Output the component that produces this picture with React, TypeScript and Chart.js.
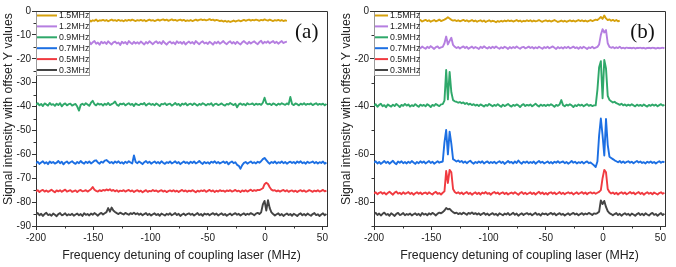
import React, { useEffect, useRef } from 'react';
import { Chart, registerables } from 'chart.js';
Chart.register(...registerables);

// ---------- axes ----------
const X_MIN = -200;
const X_MAX = 54;
const Y_MIN = -90;
const Y_MAX = 0;
const X0 = -200;      // frequency of the first sample (MHz)
const STEP = 1.5;     // sample spacing (MHz)
const xTicks = [-200, -150, -100, -50, 0, 50];
const xMinorTicks = [-175, -125, -75, -25, 25];
const yTicksA = [-90, -80, -70, -60, -50, -40, -30, -20, -10, 0];
const yMinorA = [-85, -75, -65, -55, -45, -35, -25, -15, -5];
const yTicksB = [-80, -60, -40, -20, 0];
const yMinorB = [-90, -70, -50, -30, -10];
const xTitle = 'Frequency detuning of coupling laser (MHz)';
const yTitle = 'Signal intensity with offset Y values';

// ---------- series ----------
const seriesLabels = ['1.5MHz', '1.2MHz', '0.9MHz', '0.7MHz', '0.5MHz', '0.3MHz'];
const seriesColors = ['#d6a10c', '#b57ee0', '#2fa86a', '#1c6fe3', '#f03a40', '#444444'];

// panel (a)
const a15Start = 30;
const a15 = [
  -4.2,-3.8,-4.4,-3.9,-4.1,-3.6,-4.3,-3.9,-4.0,-3.7,
  -4.1,-3.8,-4.3,-3.9,-3.6,-4.0,-3.8,-4.2,-3.7,-4.1,
  -3.9,-4.3,-3.8,-4.1,-3.7,-4.0,-3.6,-3.9,-4.2,-3.8,
  -4.0,-3.7,-4.1,-3.8,-4.3,-3.9,-3.6,-4.0,-3.8,-4.2,
  -3.9,-3.6,-4.0,-3.7,-3.5,-3.9,-3.6,-4.1,-3.8,-3.5,
  -3.9,-3.7,-4.1,-3.8,-3.6,-4.0,-3.7,-4.2,-3.9,-4.1,
  -3.8,-4.2,-3.9,-3.6,-4.0,-3.7,-3.5,-3.8,-3.6,-3.9,
  -3.7,-3.4,-3.8,-3.6,-4.0,-3.7,-3.9,-4.2,-4.0,-4.4,
  -4.1,-4.5,-4.2,-4.6,-4.3,-4.0,-4.4,-4.1,-3.9,-4.3,
  -4.0,-3.7,-4.1,-3.8,-3.6,-4.0,-3.7,-3.9,-3.6,-3.8,
  -4.1,-3.7,-3.9,-3.5,-3.8,-4.0,-3.6,-3.9,-4.2,-3.8,
  -4.0,-3.7,-4.1,-3.8,-4.2,-3.9,-4.1,
];
const a12Start = 30;
const a12 = [
  -13.6,-12.8,-13.9,-13.1,-12.6,-13.7,-13.2,-14.1,-12.9,-13.5,
  -13.0,-13.8,-12.7,-13.4,-14.0,-13.1,-12.8,-13.6,-13.2,-14.2,
  -12.9,-13.5,-13.0,-13.9,-12.6,-13.3,-13.8,-12.9,-13.6,-13.1,
  -13.7,-12.8,-13.4,-14.0,-13.0,-13.6,-12.7,-13.3,-13.9,-13.1,
  -12.7,-13.5,-13.0,-13.8,-12.6,-13.4,-14.1,-13.2,-12.8,-13.6,
  -13.1,-13.9,-12.7,-13.4,-13.0,-13.7,-12.9,-14.0,-13.3,-12.8,
  -13.5,-13.0,-13.8,-12.6,-13.3,-13.9,-13.1,-12.7,-13.6,-13.2,
  -13.8,-12.9,-13.4,-14.1,-13.0,-13.5,-12.8,-13.7,-13.2,-12.6,
  -13.4,-13.9,-13.1,-12.7,-13.6,-13.0,-13.8,-12.9,-13.5,-14.0,
  -13.1,-12.6,-13.3,-13.8,-12.9,-13.6,-13.1,-12.7,-13.4,-13.9,
  -13.0,-12.5,-13.6,-12.9,-13.3,-12.7,-13.5,-13.0,-12.6,-13.4,
  -12.9,-13.7,-13.1,-12.6,-13.4,-13.0,-12.8,
];
const a09Start = 0;
const a09 = [
  -39.2,-38.6,-39.5,-38.9,-39.8,-38.7,-39.1,-39.6,-38.5,-39.3,
  -39.0,-39.7,-38.8,-39.4,-38.6,-39.9,-39.1,-38.7,-39.5,-39.0,
  -38.8,-39.6,-39.2,-38.9,-40.0,-41.7,-39.3,-38.8,-39.4,-38.6,
  -39.1,-39.7,-38.4,-37.6,-39.0,-39.5,-38.7,-39.2,-38.9,-39.6,
  -38.8,-39.3,-38.5,-39.4,-39.0,-38.6,-37.9,-39.2,-39.7,-38.8,
  -39.1,-38.7,-39.5,-39.0,-38.6,-39.3,-38.9,-39.8,-38.7,-39.2,
  -39.4,-38.8,-39.1,-38.5,-39.6,-39.0,-38.7,-39.3,-38.9,-39.5,
  -38.7,-39.2,-39.8,-38.9,-39.1,-38.6,-39.4,-39.0,-38.8,-39.6,
  -39.1,-38.5,-39.3,-38.9,-39.7,-38.8,-39.2,-38.6,-39.5,-39.0,
  -38.8,-39.4,-38.7,-39.1,-39.6,-38.9,-39.3,-38.6,-39.0,-39.5,
  -38.9,-39.2,-38.6,-39.7,-39.0,-38.8,-39.4,-39.1,-38.7,-39.3,
  -39.6,-38.9,-39.2,-38.5,-39.0,-39.4,-38.8,-40.3,-39.1,-38.7,
  -39.3,-38.9,-39.5,-38.6,-39.1,-39.0,-38.7,-39.4,-38.8,-39.2,
  -38.9,-39.3,-38.4,-36.3,-38.6,-39.1,-38.8,-39.4,-38.7,-39.0,
  -39.5,-38.8,-39.2,-38.6,-39.0,-39.3,-38.7,-39.1,-36.0,-38.9,
  -39.4,-38.7,-39.0,-39.5,-38.8,-39.2,-38.6,-39.3,-38.9,-39.1,
  -38.7,-39.4,-39.0,-38.6,-39.3,-38.9,-39.2,-38.8,-39.5,-38.9,
];
const a07Start = 0;
const a07 = [
  -63.7,-63.1,-64.0,-63.4,-62.9,-63.8,-63.3,-64.1,-63.0,-63.6,
  -63.2,-63.9,-63.5,-62.8,-63.7,-63.1,-64.2,-63.4,-63.0,-63.8,
  -63.3,-62.9,-63.6,-64.0,-63.2,-63.7,-62.8,-63.5,-63.9,-63.1,
  -63.6,-63.0,-63.8,-63.3,-62.7,-62.5,-63.4,-63.9,-63.1,-63.5,
  -62.6,-62.4,-63.0,-63.6,-63.2,-63.8,-63.0,-63.5,-62.9,-63.7,
  -63.3,-63.9,-63.1,-63.6,-62.9,-63.4,-63.8,-60.5,-63.2,-63.7,
  -63.0,-63.5,-64.1,-63.3,-62.8,-63.6,-63.1,-63.9,-63.4,-63.0,
  -63.7,-63.2,-63.8,-62.9,-63.5,-64.0,-63.3,-63.6,-63.0,-63.8,
  -63.4,-62.9,-63.7,-63.2,-64.1,-63.5,-63.0,-63.6,-63.3,-63.9,
  -63.1,-63.6,-63.0,-63.8,-63.4,-62.8,-63.5,-64.0,-63.2,-63.7,
  -63.3,-63.9,-63.1,-63.5,-62.9,-63.7,-63.2,-63.8,-63.4,-63.0,
  -63.6,-63.1,-64.2,-63.4,-63.0,-63.7,-63.3,-64.4,-64.8,-66.0,
  -64.5,-63.6,-63.2,-63.9,-63.4,-63.0,-63.7,-63.3,-63.8,-63.1,
  -63.5,-62.9,-62.0,-61.5,-62.4,-63.3,-63.9,-63.2,-63.6,-63.0,
  -63.8,-63.3,-63.6,-63.0,-63.7,-63.2,-63.9,-63.4,-63.1,-63.6,
  -63.2,-63.8,-63.0,-63.5,-62.9,-63.7,-63.3,-63.9,-63.1,-63.6,
  -63.4,-63.0,-63.7,-63.2,-63.8,-63.3,-63.6,-63.0,-63.9,-63.4,
];
const a05Start = 0;
const a05 = [
  -75.5,-75.0,-75.8,-75.2,-74.9,-75.6,-75.1,-75.7,-75.3,-74.8,
  -75.4,-75.9,-75.1,-75.5,-75.0,-75.7,-75.2,-74.8,-75.6,-75.3,
  -75.0,-75.7,-75.4,-75.1,-75.8,-75.2,-74.9,-75.5,-75.3,-75.0,
  -75.6,-75.1,-74.6,-73.7,-74.8,-75.3,-75.6,-75.0,-75.4,-74.9,
  -75.2,-74.7,-75.1,-74.6,-75.3,-74.9,-75.5,-75.0,-75.7,-75.2,
  -75.4,-75.0,-75.6,-75.2,-74.9,-75.5,-75.1,-75.8,-75.3,-75.0,
  -75.6,-75.2,-75.9,-75.4,-75.0,-75.7,-75.3,-75.5,-74.9,-75.4,
  -75.1,-75.7,-75.3,-75.0,-75.6,-75.2,-75.8,-75.4,-75.1,-75.5,
  -75.0,-75.6,-75.2,-75.8,-75.3,-74.9,-75.5,-75.1,-75.7,-75.2,
  -75.5,-75.0,-75.4,-75.9,-75.2,-75.6,-75.1,-75.4,-75.0,-75.7,
  -75.3,-74.9,-75.5,-75.1,-75.8,-75.2,-75.6,-75.0,-75.4,-75.2,
  -75.7,-75.1,-75.4,-75.0,-75.6,-75.3,-74.9,-75.5,-75.2,-75.8,
  -75.1,-75.5,-75.0,-75.6,-75.2,-74.8,-75.4,-75.0,-75.3,-74.9,
  -75.0,-74.6,-74.2,-72.5,-71.9,-72.4,-73.8,-74.8,-75.2,-75.0,
  -75.5,-75.1,-75.6,-75.2,-74.9,-75.5,-75.0,-75.7,-75.3,-75.1,
  -75.6,-75.2,-75.8,-75.3,-75.0,-75.5,-75.1,-75.7,-75.4,-75.0,
  -75.3,-75.7,-75.2,-75.5,-75.0,-75.6,-75.3,-74.9,-75.5,-75.2,
];
const a03Start = 0;
const a03 = [
  -85.2,-84.6,-85.5,-84.9,-85.8,-85.0,-84.5,-85.4,-85.1,-85.7,
  -84.8,-85.3,-85.9,-85.0,-84.6,-85.5,-85.2,-84.7,-85.6,-85.1,
  -85.4,-84.9,-85.7,-85.2,-84.8,-85.5,-85.0,-85.8,-84.7,-85.3,
  -85.0,-85.6,-84.8,-85.3,-84.6,-85.1,-85.7,-84.9,-84.5,-85.2,
  -84.7,-84.2,-82.5,-84.0,-82.3,-83.5,-84.1,-84.6,-85.0,-84.4,
  -84.8,-85.2,-84.5,-84.9,-85.3,-84.6,-85.0,-84.4,-85.1,-84.7,
  -85.3,-84.8,-85.5,-85.0,-84.6,-85.4,-84.9,-85.6,-85.1,-84.7,
  -85.4,-85.0,-85.7,-84.8,-85.2,-85.6,-84.9,-85.3,-84.7,-85.5,
  -85.1,-84.6,-85.4,-84.9,-85.8,-85.2,-84.8,-85.5,-85.0,-84.7,
  -85.3,-84.9,-85.6,-85.1,-84.6,-85.4,-85.0,-85.7,-84.8,-85.2,
  -84.9,-85.5,-85.0,-84.6,-85.3,-84.8,-85.6,-85.1,-84.7,-85.4,
  -85.0,-85.7,-85.2,-84.8,-85.5,-85.0,-84.6,-85.3,-84.9,-85.6,
  -85.1,-84.7,-85.4,-84.9,-85.2,-84.6,-85.0,-85.5,-84.8,-84.5,
  -85.0,-84.3,-81.0,-79.5,-83.5,-79.2,-82.5,-84.3,-85.0,-85.6,
  -85.1,-84.7,-85.5,-85.0,-85.8,-85.2,-84.8,-85.4,-85.0,-85.7,
  -84.9,-85.3,-85.8,-85.1,-84.7,-85.5,-85.0,-85.6,-84.8,-85.3,
  -85.7,-85.0,-84.6,-85.4,-85.1,-85.8,-85.2,-84.7,-85.5,-85.0,
];

// panel (b)
const b15Start = 26;
const b15 = [
  -4.2,-3.8,-4.4,-4.0,
  -3.7,-4.2,-3.9,-4.5,-4.1,-3.8,-4.3,-4.0,-3.6,-4.2,
  -3.9,-3.6,-3.2,-2.6,-3.1,-3.7,-4.0,-3.8,-4.2,-3.9,
  -4.3,-4.0,-3.7,-4.2,-3.9,-4.4,-4.1,-3.8,-4.3,-4.0,
  -4.5,-4.1,-3.9,-4.4,-4.0,-4.6,-4.2,-3.9,-4.4,-4.1,
  -4.3,-4.7,-4.2,-4.5,-4.1,-4.4,-4.0,-4.3,-3.9,-4.2,
  -4.0,-4.4,-4.1,-3.8,-4.3,-4.0,-4.5,-4.1,-4.3,-3.9,
  -4.2,-3.9,-4.4,-4.0,-4.3,-4.1,-3.8,-4.2,-4.5,-4.1,
  -3.9,-4.3,-4.0,-4.4,-4.1,-3.8,-4.2,-4.6,-4.3,-4.0,
  -4.4,-4.1,-4.5,-4.2,-3.9,-4.3,-4.0,-4.4,-4.1,-3.8,
  -4.2,-3.9,-4.3,-4.0,-4.4,-4.1,-3.8,-4.2,-3.9,-3.6,
  -3.8,-3.2,-2.5,-3.3,-1.9,-3.1,-3.8,-3.5,-4.1,-3.7,
  -4.2,-3.8,-4.3,-4.0,
];
const b12Start = 26;
const b12 = [
  -15.1,-15.6,-14.9,-15.4,
  -15.8,-15.0,-15.5,-14.7,-15.3,-15.9,-15.1,-14.8,-15.6,-15.2,
  -15.0,-13.5,-10.7,-14.0,-12.5,-11.2,-14.2,-15.0,-15.5,-15.1,
  -15.7,-15.2,-14.8,-15.5,-15.0,-15.8,-15.3,-14.9,-15.6,-15.1,
  -15.4,-15.9,-15.0,-15.5,-14.8,-15.3,-15.7,-15.1,-15.6,-15.0,
  -15.5,-14.9,-15.4,-15.8,-15.2,-15.6,-15.0,-15.3,-15.9,-15.1,
  -15.6,-15.1,-15.5,-14.9,-15.4,-15.8,-15.2,-15.0,-15.6,-15.3,
  -14.9,-15.5,-15.1,-15.7,-15.2,-15.6,-15.0,-15.4,-15.8,-15.1,
  -15.5,-15.0,-15.6,-15.2,-14.8,-15.4,-15.9,-15.1,-15.6,-15.2,
  -15.7,-15.1,-15.5,-15.0,-15.6,-15.3,-14.9,-15.5,-15.2,-15.8,
  -15.1,-15.6,-15.0,-15.4,-15.9,-15.2,-15.5,-15.0,-15.6,-15.3,
  -15.0,-14.0,-10.0,-7.6,-9.0,-8.0,-13.5,-15.0,-15.4,-15.1,
  -15.6,-15.2,-15.5,-15.0,-15.6,-15.3,-15.7,-15.2,-15.5,-15.4,
  -15.6,-15.3,-15.7,-15.4,-15.5,-15.3,-15.6,-15.4,-15.7,-15.5,
  -15.4,-15.6,-15.3,-15.5,-15.7,-15.4,-15.6,-15.5,-15.3,-15.6,
];
const b09Start = 0;
const b09 = [
  -39.7,-39.0,-40.1,-39.3,-38.8,-39.9,-39.4,-40.3,-39.1,-39.6,
  -40.0,-39.2,-39.8,-38.9,-39.5,-40.2,-39.3,-39.7,-38.9,-39.6,
  -39.1,-40.0,-39.4,-39.8,-39.0,-39.6,-40.1,-39.2,-39.7,-39.3,
  -39.9,-39.0,-39.5,-40.2,-39.3,-39.7,-38.9,-39.4,-39.8,-39.1,
  -39.0,-37.5,-24.7,-37.0,-25.5,-34.0,-37.3,-37.8,-38.0,-38.4,
  -38.1,-38.6,-38.3,-38.9,-38.5,-39.2,-38.8,-39.4,-39.0,-39.6,
  -39.2,-39.8,-39.1,-39.5,-40.0,-39.3,-39.7,-38.9,-39.4,-39.9,
  -39.3,-39.7,-39.0,-39.6,-40.1,-39.2,-39.8,-39.4,-38.9,-39.6,
  -40.0,-39.3,-39.7,-39.1,-39.5,-40.2,-39.4,-39.0,-39.8,-39.3,
  -39.6,-39.1,-39.9,-39.4,-38.8,-39.5,-40.0,-39.2,-39.7,-39.3,
  -39.8,-39.2,-39.6,-39.0,-39.5,-40.1,-39.3,-39.7,-39.1,-37.3,
  -39.4,-39.9,-39.2,-39.6,-39.0,-39.5,-40.2,-39.4,-39.8,-39.1,
  -39.6,-39.2,-39.9,-39.4,-39.0,-39.7,-39.3,-39.8,-39.5,-39.5,
  -33.0,-23.5,-21.0,-36.5,-20.5,-24.0,-35.5,-37.2,-37.8,-38.3,
  -38.0,-38.6,-38.9,-39.3,-38.8,-39.5,-39.1,-39.7,-39.2,-39.6,
  -39.0,-39.5,-39.9,-39.2,-39.7,-39.3,-39.8,-39.1,-39.6,-40.0,
  -39.3,-39.7,-39.1,-39.6,-39.2,-39.9,-39.4,-39.0,-39.6,-39.3,
];
const b07Start = 0;
const b07 = [
  -63.5,-62.9,-63.8,-63.2,-64.0,-63.4,-62.8,-63.6,-63.1,-63.9,
  -63.3,-62.7,-63.6,-64.1,-63.0,-63.5,-62.9,-63.7,-63.2,-63.8,
  -63.1,-63.6,-62.8,-63.4,-64.0,-63.2,-63.7,-62.9,-63.5,-63.0,
  -63.8,-63.3,-62.8,-63.6,-63.1,-63.9,-63.4,-62.9,-63.5,-63.2,
  -63.0,-55.0,-49.8,-60.0,-50.5,-55.5,-62.0,-62.5,-63.0,-62.6,
  -63.2,-62.8,-63.5,-63.0,-63.7,-63.1,-62.7,-63.4,-63.9,-63.2,
  -63.6,-63.0,-63.5,-62.9,-63.8,-63.3,-63.0,-63.7,-63.2,-63.6,
  -63.1,-63.8,-63.3,-62.9,-63.6,-63.1,-64.0,-63.4,-62.8,-63.5,
  -63.2,-63.8,-63.0,-63.6,-62.6,-63.4,-63.9,-63.1,-63.5,-63.0,
  -63.7,-63.2,-63.6,-63.0,-63.9,-63.3,-62.8,-63.5,-63.1,-63.8,
  -63.4,-63.0,-63.7,-63.2,-63.8,-63.1,-63.5,-62.9,-63.6,-63.3,
  -63.0,-63.7,-63.2,-63.9,-63.4,-62.8,-63.5,-63.1,-63.8,-63.3,
  -63.6,-63.1,-63.8,-63.3,-63.0,-63.7,-63.4,-64.0,-64.6,-65.3,
  -63.0,-52.0,-45.0,-52.0,-60.5,-45.2,-56.0,-61.0,-61.5,-62.0,
  -62.5,-62.9,-63.3,-62.8,-63.5,-63.0,-63.6,-63.2,-62.9,-63.5,
  -63.1,-63.7,-63.2,-62.8,-63.4,-63.0,-63.6,-63.3,-63.8,-63.1,
  -63.5,-63.0,-63.6,-63.2,-63.8,-63.3,-62.9,-63.5,-63.1,-63.4,
];
const b05Start = 0;
const b05 = [
  -76.4,-75.9,-76.7,-76.1,-75.8,-76.5,-76.0,-76.8,-76.2,-75.7,
  -76.3,-76.9,-76.0,-75.6,-76.4,-76.1,-76.7,-75.9,-76.5,-76.2,
  -75.8,-76.6,-76.1,-76.9,-76.3,-75.9,-76.5,-76.0,-76.7,-76.2,
  -76.0,-76.6,-75.9,-76.4,-76.8,-76.1,-75.7,-76.5,-76.2,-76.8,
  -76.1,-75.5,-67.0,-72.0,-66.5,-67.5,-74.5,-75.8,-76.3,-75.9,
  -76.5,-76.0,-76.7,-76.2,-75.8,-76.6,-76.1,-76.9,-76.3,-75.9,
  -76.6,-76.1,-76.8,-76.0,-76.4,-75.8,-76.5,-76.2,-76.9,-76.1,
  -75.8,-76.4,-76.0,-76.7,-76.2,-75.9,-76.6,-76.1,-76.8,-76.3,
  -76.0,-76.5,-75.9,-76.4,-76.9,-76.2,-75.8,-76.6,-76.1,-76.7,
  -76.3,-75.9,-76.6,-76.1,-76.8,-76.2,-75.7,-76.5,-76.0,-76.7,
  -76.2,-76.8,-76.1,-75.9,-76.5,-76.0,-76.7,-76.3,-75.8,-76.6,
  -76.1,-76.7,-76.2,-75.9,-76.4,-76.0,-76.8,-76.3,-75.9,-76.6,
  -76.2,-75.8,-76.5,-76.0,-76.7,-76.1,-75.9,-76.4,-76.0,-76.5,
  -76.1,-75.7,-75.0,-70.0,-66.5,-67.5,-74.5,-75.8,-76.4,-76.0,
  -76.6,-76.1,-76.8,-76.2,-75.9,-76.5,-76.0,-76.7,-76.3,-75.8,
  -76.4,-76.0,-76.7,-76.2,-75.8,-76.6,-76.1,-76.9,-76.3,-75.9,
  -76.5,-76.1,-76.7,-76.0,-76.4,-76.8,-76.2,-75.9,-76.5,-76.1,
];
const b03Start = 0;
const b03 = [
  -85.1,-84.5,-85.4,-84.8,-85.6,-84.9,-84.4,-85.3,-85.0,-85.7,
  -84.7,-85.2,-85.8,-84.9,-84.5,-85.4,-85.1,-84.6,-85.5,-85.0,
  -85.3,-84.8,-85.6,-85.1,-84.7,-85.4,-84.9,-85.7,-84.6,-85.2,
  -84.9,-85.5,-84.7,-85.2,-84.5,-85.0,-85.6,-84.8,-84.4,-84.7,
  -84.2,-83.5,-82.5,-83.0,-82.8,-83.6,-84.2,-84.7,-84.4,-85.0,
  -84.6,-85.1,-84.4,-84.8,-85.3,-84.5,-84.9,-84.3,-85.0,-84.6,
  -85.2,-84.7,-85.4,-84.9,-84.5,-85.3,-84.8,-85.5,-85.0,-84.6,
  -85.3,-84.9,-85.6,-84.7,-85.1,-85.5,-84.8,-85.2,-84.6,-85.4,
  -85.0,-84.5,-85.3,-84.8,-85.7,-85.1,-84.7,-85.4,-84.9,-84.6,
  -85.2,-84.8,-85.5,-85.0,-84.5,-85.3,-84.9,-85.6,-84.7,-85.1,
  -84.8,-85.4,-84.9,-84.5,-85.2,-84.7,-85.5,-85.0,-84.6,-85.3,
  -84.9,-85.6,-85.1,-84.7,-85.4,-84.9,-84.5,-85.2,-84.8,-85.5,
  -85.0,-84.6,-85.3,-84.8,-85.1,-84.5,-84.9,-85.4,-84.7,-84.9,
  -84.6,-84.0,-79.3,-80.8,-79.5,-82.0,-83.8,-84.6,-85.0,-85.5,
  -85.0,-84.6,-85.4,-84.9,-85.7,-85.1,-84.7,-85.3,-84.9,-85.6,
  -84.8,-85.2,-85.7,-85.0,-84.6,-85.4,-84.9,-85.5,-84.7,-85.2,
  -85.6,-84.9,-84.5,-85.3,-85.0,-85.7,-85.1,-84.6,-85.4,-84.9,
];

type Series = { values: number[]; start: number };
type PanelCfg = {
  tag: string;
  series: Series[];
  yTicks: number[];
  yMinor: number[];
  legendLine: number;
  legendTextX: number;
  legendWidth: number;
  tagBoxFrom: number;
  tagBoxBottom: number;
};

const panels: PanelCfg[] = [
  {
    tag: '(a)',
    series: [
      { values: a15, start: a15Start }, { values: a12, start: a12Start },
      { values: a09, start: a09Start }, { values: a07, start: a07Start },
      { values: a05, start: a05Start }, { values: a03, start: a03Start },
    ],
    yTicks: yTicksA, yMinor: yMinorA,
    legendLine: 20, legendTextX: 23, legendWidth: 53,
    tagBoxFrom: 19.5, tagBoxBottom: -14.6,
  },
  {
    tag: '(b)',
    series: [
      { values: b15, start: b15Start }, { values: b12, start: b12Start },
      { values: b09, start: b09Start }, { values: b07, start: b07Start },
      { values: b05, start: b05Start }, { values: b03, start: b03Start },
    ],
    yTicks: yTicksB, yMinor: yMinorB,
    legendLine: 13, legendTextX: 16, legendWidth: 45,
    tagBoxFrom: 15.8, tagBoxBottom: -14.9,
  },
];

const SANS = '"Liberation Sans", Arial, sans-serif';
const SERIF = '"Liberation Serif", "Times New Roman", serif';

function Panel({ cfg }: { cfg: PanelCfg }) {
  const ref = useRef<HTMLCanvasElement | null>(null);
  useEffect(() => {
    const canvas = ref.current;
    if (!canvas) return;
    const datasets = cfg.series.map((s, k) => ({
      label: seriesLabels[k],
      data: s.values.map((v, i) => ({ x: X0 + STEP * (s.start + i), y: v })),
      borderColor: seriesColors[k],
      backgroundColor: seriesColors[k],
      borderWidth: 1.9,
      pointRadius: 0,
      borderJoinStyle: 'round' as const,
      tension: 0,
    }));

    const overlay = {
      id: 'overlay',
      afterDatasetsDraw(chart: any) {
        const { ctx, chartArea } = chart;
        const xs = chart.scales.x;
        const ys = chart.scales.y;
        ctx.save();
        // panel tag box
        const bx0 = xs.getPixelForValue(cfg.tagBoxFrom);
        const bx1 = chartArea.right - 1;
        const by1 = ys.getPixelForValue(cfg.tagBoxBottom);
        ctx.fillStyle = '#ffffff';
        ctx.fillRect(bx0, chartArea.top + 1, bx1 - bx0, by1 - chartArea.top - 1);
        ctx.fillStyle = '#111';
        ctx.font = `21px ${SERIF}`;
        ctx.textAlign = 'center';
        ctx.textBaseline = 'middle';
        ctx.fillText(cfg.tag, (bx0 + bx1) / 2, chartArea.top + 21);
        // legend
        const lx = chartArea.left;
        const ly = chartArea.top;
        const lh = 64;
        ctx.fillStyle = '#ffffff';
        ctx.fillRect(lx + 0.5, ly + 0.5, cfg.legendWidth, lh);
        ctx.strokeStyle = '#9a9a9a';
        ctx.lineWidth = 1;
        ctx.strokeRect(lx + 0.5, ly + 0.5, cfg.legendWidth, lh);
        ctx.font = `8.8px ${SANS}`;
        ctx.textAlign = 'left';
        ctx.textBaseline = 'middle';
        seriesLabels.forEach((lab, k) => {
          const cy = ly + 4.5 + 10.9 * k;
          ctx.strokeStyle = seriesColors[k];
          ctx.lineWidth = 2;
          ctx.beginPath();
          ctx.moveTo(lx + 1, cy);
          ctx.lineTo(lx + 1 + cfg.legendLine, cy);
          ctx.stroke();
          ctx.fillStyle = '#222';
          ctx.fillText(lab, lx + cfg.legendTextX, cy + 0.5);
        });
        ctx.restore();
      },
      afterDraw(chart: any) {
        const { ctx, chartArea } = chart;
        const xs = chart.scales.x;
        const ys = chart.scales.y;
        ctx.save();
        ctx.strokeStyle = '#333';
        ctx.lineWidth = 1;
        // frame top / right
        ctx.beginPath();
        ctx.moveTo(chartArea.left, chartArea.top + 0.5);
        ctx.lineTo(chartArea.right + 0.5, chartArea.top + 0.5);
        ctx.lineTo(chartArea.right + 0.5, chartArea.bottom);
        ctx.stroke();
        // minor ticks
        ctx.beginPath();
        xMinorTicks.forEach((v) => {
          const px = Math.round(xs.getPixelForValue(v)) + 0.5;
          ctx.moveTo(px, chartArea.bottom);
          ctx.lineTo(px, chartArea.bottom + 2.5);
        });
        cfg.yMinor.forEach((v) => {
          const py = Math.round(ys.getPixelForValue(v)) + 0.5;
          ctx.moveTo(chartArea.left, py);
          ctx.lineTo(chartArea.left - 2.5, py);
        });
        ctx.stroke();
        // y title
        ctx.fillStyle = '#222';
        ctx.font = `12.3px ${SANS}`;
        ctx.textAlign = 'center';
        ctx.textBaseline = 'middle';
        ctx.translate(8.5, 109);
        ctx.rotate(-Math.PI / 2);
        ctx.fillText(yTitle, 0, 0);
        ctx.restore();
      },
    };

    const chart = new Chart(canvas, {
      type: 'line',
      data: { datasets },
      options: {
        animation: false,
        responsive: false,
        devicePixelRatio: 1,
        layout: { padding: { top: 11, right: 11, left: 0, bottom: 0 } },
        plugins: { legend: { display: false }, tooltip: { enabled: false } },
        scales: {
          x: {
            type: 'linear',
            min: X_MIN,
            max: X_MAX,
            afterBuildTicks: (axis: any) => { axis.ticks = xTicks.map((v) => ({ value: v })); },
            afterFit: (axis: any) => { axis.height = 41; },
            grid: { display: true, drawOnChartArea: false, drawTicks: true, tickLength: 4, color: '#333' },
            border: { display: true, color: '#333', width: 1 },
            ticks: { color: '#222', font: { family: SANS, size: 10 }, padding: 2, maxRotation: 0, autoSkip: false },
            title: { display: true, text: xTitle, color: '#222', font: { family: SANS, size: 12.3 }, padding: { top: 0, bottom: 4 } },
          },
          y: {
            type: 'linear',
            min: Y_MIN,
            max: Y_MAX,
            afterBuildTicks: (axis: any) => { axis.ticks = cfg.yTicks.map((v) => ({ value: v })); },
            afterFit: (axis: any) => { axis.width = 36; },
            grid: { display: true, drawOnChartArea: false, drawTicks: true, tickLength: 4, color: '#333' },
            border: { display: true, color: '#333', width: 1 },
            ticks: { color: '#222', font: { family: SANS, size: 10 }, padding: 1, autoSkip: false },
          },
        },
      },
      plugins: [overlay],
    } as any);
    return () => chart.destroy();
  }, [cfg]);
  return <canvas ref={ref} width={338} height={267} style={{ display: 'block', width: 338, height: 267 }} />;
}

export default function App() {
  return (
    <div style={{ position: 'absolute', left: 0, top: 0, width: 676, height: 267, display: 'flex', background: '#fff' }}>
      {panels.map((p) => <Panel key={p.tag} cfg={p} />)}
    </div>
  );
}
